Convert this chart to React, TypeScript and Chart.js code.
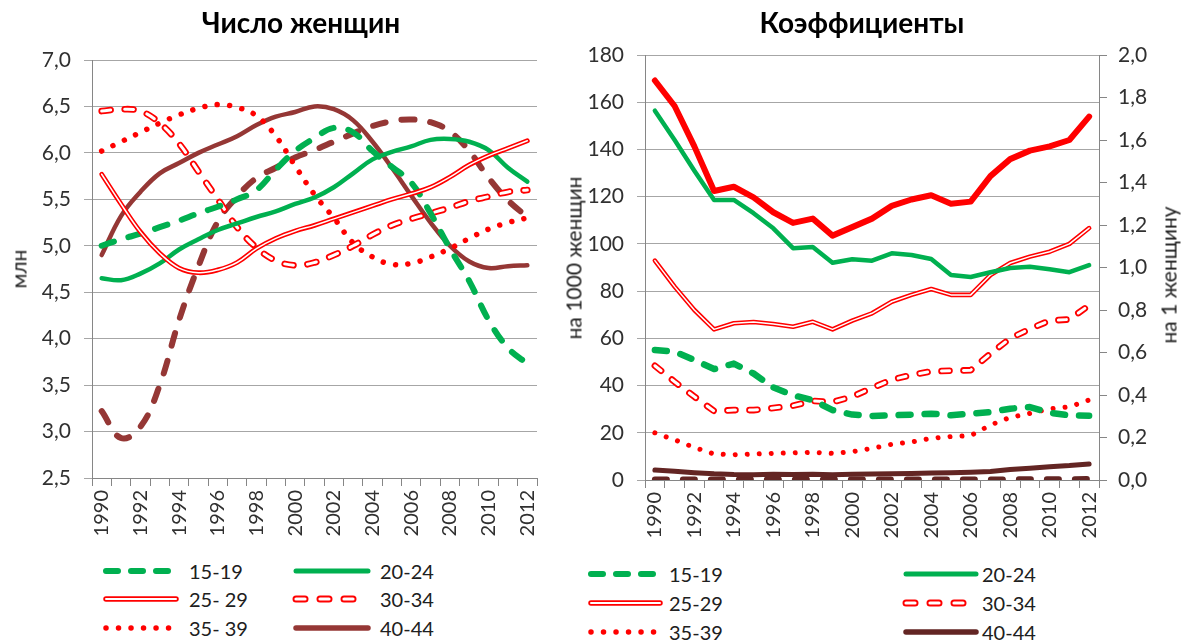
import React, { useEffect, useRef } from "react";
import { Chart, registerables } from "chart.js";

Chart.register(...registerables);

const YEARS = ["1990","1991","1992","1993","1994","1995","1996","1997","1998","1999","2000","2001","2002","2003","2004","2005","2006","2007","2008","2009","2010","2011","2012"];

// Left chart: number of women, mln
const W15_19 = [5.0,5.07,5.13,5.2,5.27,5.35,5.42,5.5,5.6,5.82,6.02,6.16,6.27,6.22,6.02,5.85,5.68,5.35,4.97,4.62,4.2,3.9,3.73];
const W20_24 = [4.65,4.63,4.7,4.81,4.96,5.07,5.17,5.24,5.31,5.37,5.45,5.52,5.63,5.78,5.93,6.01,6.07,6.14,6.15,6.12,6.03,5.84,5.69];
const W25_29 = [5.77,5.45,5.15,4.92,4.76,4.71,4.74,4.82,4.97,5.08,5.16,5.22,5.29,5.36,5.43,5.5,5.56,5.63,5.74,5.87,5.97,6.05,6.13];
const W30_34 = [6.45,6.47,6.45,6.32,6.1,5.8,5.5,5.2,4.98,4.84,4.79,4.82,4.9,5.0,5.12,5.22,5.29,5.35,5.41,5.48,5.53,5.58,5.6];
const W35_39 = [6.02,6.12,6.22,6.32,6.41,6.48,6.52,6.49,6.4,6.18,5.86,5.55,5.3,5.03,4.88,4.8,4.81,4.88,4.97,5.08,5.18,5.25,5.3];
const W40_44 = [4.9,5.32,5.58,5.78,5.89,6.0,6.09,6.18,6.3,6.39,6.44,6.5,6.47,6.35,6.12,5.84,5.54,5.25,5.0,4.83,4.76,4.78,4.79];
const W45_49 = [3.22,2.93,3.05,3.5,4.2,4.78,5.26,5.53,5.73,5.84,5.95,6.03,6.12,6.21,6.29,6.34,6.36,6.33,6.23,6.02,5.73,5.49,5.31];

// Right chart: age-specific fertility rates per 1000 women, TFR per woman
const F15_19 = [55.1,54.4,50.8,47.0,49.3,45.1,39.2,35.9,33.8,29.6,27.7,27.1,27.4,27.7,28.1,27.4,28.1,28.8,30.2,30.9,28.5,27.4,27.2];
const F20_24 = [156.4,144,131,118.6,118.6,113,106.6,98.2,98.7,92,93.5,92.9,96,95.3,93.6,86.8,86,88,89.8,90.3,89.3,88,91];
const F25_29 = [92.9,81.9,72,63.8,66.4,66.9,66.1,64.9,67,63.8,67.5,70.6,75.5,78.4,80.9,78.4,78.4,86.8,91.9,94.6,96.7,100,106.7];
const F30_34 = [48.4,41.6,35.3,29.2,29.6,29.6,30.5,31.5,33.5,33,35.3,39,42.5,44.5,46,46.3,46.5,53.5,60,64,67.5,68,74];
const F35_39 = [20,17,13.8,11,10.7,11,11.3,11.5,11.7,11.3,12,13.4,15.1,16.1,17.7,18.4,18.8,23.3,26.5,28.2,30.1,31,33.9];
const F40_44 = [4.2,3.7,3.1,2.6,2.3,2.2,2.4,2.3,2.4,2.2,2.4,2.5,2.6,2.8,3.0,3.1,3.3,3.6,4.4,5.0,5.6,6.1,6.8];
const F45_49 = [0.2,0.2,0.2,0.2,0.2,0.2,0.2,0.2,0.2,0.2,0.2,0.2,0.2,0.2,0.2,0.2,0.2,0.2,0.3,0.3,0.3,0.3,0.4];
const TFR = [1.88,1.76,1.57,1.36,1.38,1.33,1.26,1.21,1.23,1.15,1.19,1.23,1.29,1.32,1.34,1.30,1.31,1.43,1.51,1.55,1.57,1.60,1.71];

const LEFT_TICKS = { min: 2.5, max: 7.0, step: 0.5 };
const RIGHT_TICKS = { min: 0, max: 180, step: 20 };
const RIGHT2_TICKS = { min: 0, max: 2.0, step: 0.2 };

const GREEN = "#00b050";
const RED = "#ff0000";
const BROWN = "#953735";
const DKBROWN = "#632523";
const FONT = "Lato";
const TICK_COLOR = "#303030";
const AXIS_COLOR = "#868686";
const GRID_COLOR = "#a6a6a6";

function ds(data: number[], color: string, width: number, extra: any = {}) {
  return {
    data,
    borderColor: color,
    backgroundColor: color,
    borderWidth: width,
    pointRadius: 0,
    pointHoverRadius: 0,
    fill: false,
    borderCapStyle: "round",
    borderJoinStyle: "round",
    ...extra,
  };
}

const fmt1 = (v: any) => Number(v).toFixed(1).replace(".", ",");

function xAxis(height: number) {
  return {
    type: "category",
    offset: true,
    grid: { offset: true, drawOnChartArea: false, drawTicks: true, tickLength: 8, color: AXIS_COLOR },
    border: { color: AXIS_COLOR },
    ticks: {
      autoSkip: false,
      maxRotation: 90,
      minRotation: 90,
      padding: 4,
      color: TICK_COLOR,
      font: { family: FONT, size: 20 },
      callback: (_v: any, i: number) => (i % 2 === 0 ? YEARS[i] : ""),
    },
    afterFit: (s: any) => {
      s.height = height;
    },
  };
}

function ChartCanvas({ config, left, width, height }: any) {
  const ref = useRef<HTMLCanvasElement | null>(null);
  useEffect(() => {
    if (!ref.current) return;
    const c = new Chart(ref.current, config);
    return () => c.destroy();
  }, []);
  return (
    <canvas
      ref={ref}
      width={width}
      height={height}
      style={{ position: "absolute", left, top: 0, width, height }}
    />
  );
}

const leftConfig: any = {
  type: "line",
  data: {
    labels: YEARS,
    datasets: [
      ds(W15_19, GREEN, 6, { borderDash: [13, 15], tension: 0.4, order: 3 }),
      ds(W20_24, GREEN, 4.5, { tension: 0.4, order: 4 }),
      ds(W25_29, "#ffffff", 1.5, { tension: 0.4, order: 1 }),
      ds(W25_29, RED, 4.8, { tension: 0.4, order: 2 }),
      ds(W30_34, "#ffffff", 3, { borderDash: [9, 14], tension: 0.4, order: 5 }),
      ds(W30_34, RED, 6.6, { borderDash: [9, 14], tension: 0.4, order: 6 }),
      ds(W35_39, RED, 5.5, { borderDash: [0.01, 12.5], tension: 0.4, order: 7 }),
      ds(W40_44, BROWN, 4.5, { tension: 0.4, order: 8 }),
      ds(W45_49, BROWN, 6, { borderDash: [13, 16], tension: 0.4, order: 9 }),
    ],
  },
  options: {
    animation: false,
    responsive: false,
    maintainAspectRatio: false,
    events: [],
    layout: { padding: { top: 60, left: 0, right: 23, bottom: 0 } },
    plugins: { legend: { display: false }, tooltip: { enabled: false }, title: { display: false } },
    scales: {
      x: xAxis(67),
      y: {
        min: LEFT_TICKS.min,
        max: LEFT_TICKS.max,
        grid: { color: GRID_COLOR, tickLength: 8, drawTicks: true },
        border: { color: AXIS_COLOR },
        ticks: {
          stepSize: LEFT_TICKS.step,
          padding: 13,
          color: TICK_COLOR,
          font: { family: FONT, size: 21 },
          callback: fmt1,
        },
        afterFit: (s: any) => {
          s.width = 92;
        },
      },
    },
  },
};

const rightConfig: any = {
  type: "line",
  data: {
    labels: YEARS,
    datasets: [
      ds(TFR, RED, 6, { yAxisID: "y1", order: 1 }),
      ds(F15_19, GREEN, 6.5, { borderDash: [12, 14], order: 4 }),
      ds(F20_24, GREEN, 4.5, { order: 3 }),
      ds(F25_29, "#ffffff", 1.5, { order: 5 }),
      ds(F25_29, RED, 4.6, { order: 6 }),
      ds(F30_34, "#ffffff", 3, { borderDash: [8, 14], order: 7 }),
      ds(F30_34, RED, 6.6, { borderDash: [8, 14], order: 8 }),
      ds(F35_39, RED, 5, { borderDash: [0.01, 12], order: 9 }),
      ds(F40_44, DKBROWN, 5, { order: 10 }),
      ds(F45_49, DKBROWN, 6, { borderDash: [12, 16], order: 11 }),
    ],
  },
  options: {
    animation: false,
    responsive: false,
    maintainAspectRatio: false,
    events: [],
    layout: { padding: { top: 55, left: 0, right: 0, bottom: 0 } },
    plugins: { legend: { display: false }, tooltip: { enabled: false }, title: { display: false } },
    scales: {
      x: xAxis(65),
      y: {
        position: "left",
        min: RIGHT_TICKS.min,
        max: RIGHT_TICKS.max,
        grid: { color: GRID_COLOR, tickLength: 8, drawTicks: true },
        border: { color: AXIS_COLOR },
        ticks: {
          stepSize: RIGHT_TICKS.step,
          padding: 13,
          color: TICK_COLOR,
          font: { family: FONT, size: 21 },
        },
        afterFit: (s: any) => {
          s.width = 85;
        },
      },
      y1: {
        position: "right",
        min: RIGHT2_TICKS.min,
        max: RIGHT2_TICKS.max,
        grid: { drawOnChartArea: false, color: AXIS_COLOR, tickLength: 8, drawTicks: true },
        border: { color: AXIS_COLOR },
        ticks: {
          stepSize: RIGHT2_TICKS.step,
          padding: 11,
          color: TICK_COLOR,
          font: { family: FONT, size: 21 },
          callback: fmt1,
        },
        afterFit: (s: any) => {
          s.width = 94;
        },
      },
    },
  },
};

type Sample = { color: string; width: number; dash?: string; hollow?: boolean; inner?: number };

function LegendItem({ x1, x2, tx, y, label, s }: { x1: number; x2: number; tx: number; y: number; label: string; s: Sample }) {
  const w = x2 - x1 + 10;
  return (
    <>
      <svg
        width={w}
        height={14}
        style={{ position: "absolute", left: x1 - 5, top: y - 7, overflow: "visible" }}
      >
        <line x1={5} y1={7} x2={w - 5} y2={7} stroke={s.color} strokeWidth={s.width} strokeDasharray={s.dash} strokeLinecap="round" />
        {s.hollow ? (
          <line x1={5} y1={7} x2={w - 5} y2={7} stroke="#ffffff" strokeWidth={s.inner || 1.5} strokeDasharray={s.dash} strokeLinecap="round" />
        ) : null}
      </svg>
      <div
        style={{
          position: "absolute",
          left: tx,
          top: y - 13,
          height: 26,
          lineHeight: "26px",
          fontFamily: FONT,
          fontSize: 20,
          color: "#202020",
          whiteSpace: "nowrap",
        }}
      >
        {label}
      </div>
    </>
  );
}

const LEFT_LEGEND = ["15-19", "20-24", "25- 29", "30-34", "35- 39", "40-44"];
const RIGHT_LEGEND = ["15-19", "20-24", "25-29", "30-34", "35-39", "40-44"];

function samples(dark: string): Sample[] {
  return [
    { color: GREEN, width: 6, dash: "12 13" },
    { color: GREEN, width: 5 },
    { color: RED, width: 5.5, hollow: true, inner: 2 },
    { color: RED, width: 7, dash: "9 15", hollow: true, inner: 3.2 },
    { color: RED, width: 5.5, dash: "0.01 12.5" },
    { color: dark, width: 5.5 },
  ];
}

function Legend({ rows, cols, labels, dark }: any) {
  const s = samples(dark);
  const items: any[] = [];
  labels.forEach((lab: string, i: number) => {
    const r = Math.floor(i / 2);
    const c = cols[i % 2];
    items.push(<LegendItem key={i} x1={c.x1} x2={c.x2} tx={c.tx} y={rows[r]} label={lab} s={s[i]} />);
  });
  return <>{items}</>;
}

function AxisTitle({ text, cx, cy }: { text: string; cx: number; cy: number }) {
  return (
    <div
      style={{
        position: "absolute",
        left: cx,
        top: cy,
        transform: "translate(-50%, -50%) rotate(-90deg)",
        fontFamily: FONT,
        fontSize: 21,
        color: "#202020",
        whiteSpace: "nowrap",
      }}
    >
      {text}
    </div>
  );
}

function Title({ text, cx }: { text: string; cx: number }) {
  return (
    <div
      style={{
        position: "absolute",
        left: cx,
        top: 22,
        transform: "translate(-50%, -50%)",
        fontFamily: FONT,
        fontWeight: 700,
        fontSize: 28,
        color: "#000000",
        whiteSpace: "nowrap",
      }}
    >
      {text}
    </div>
  );
}

export default function App() {
  return (
    <div
      style={{
        position: "fixed",
        left: 0,
        top: 0,
        width: 1193,
        height: 644,
        background: "#ffffff",
        overflow: "hidden",
      }}
    >
      <ChartCanvas config={leftConfig} left={0} width={560} height={545} />
      <ChartCanvas config={rightConfig} left={560} width={633} height={545} />
      <Title text="Число женщин" cx={301} />
      <Title text="Коэффициенты" cx={862} />
      <AxisTitle text="млн" cx={18} cy={269} />
      <AxisTitle text="на 1000 женщин" cx={573} cy={258} />
      <AxisTitle text="на 1 женщину" cx={1168} cy={275} />
      <Legend
        rows={[571, 599, 628]}
        cols={[
          { x1: 106, x2: 176, tx: 189 },
          { x1: 296, x2: 368, tx: 380 },
        ]}
        labels={LEFT_LEGEND}
        dark={BROWN}
      />
      <Legend
        rows={[574, 603, 632]}
        cols={[
          { x1: 591, x2: 660, tx: 669 },
          { x1: 906, x2: 976, tx: 982 },
        ]}
        labels={RIGHT_LEGEND}
        dark={DKBROWN}
      />
    </div>
  );
}
